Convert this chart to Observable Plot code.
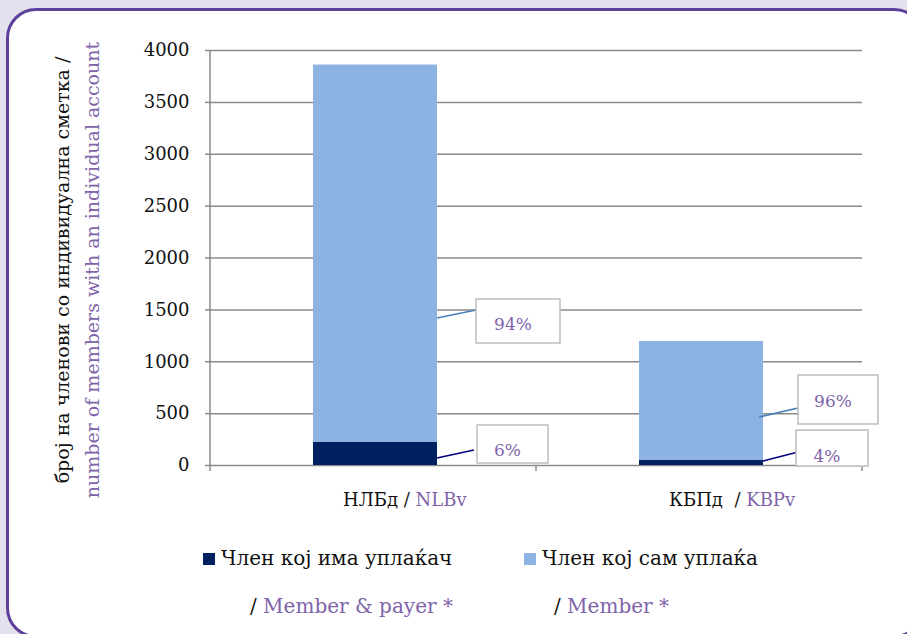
<!DOCTYPE html>
<html><head><meta charset="utf-8">
<script src="https://cdn.jsdelivr.net/npm/d3@7"></script>
<script src="https://cdn.jsdelivr.net/npm/@observablehq/plot@0.6"></script>
<style>
html,body{margin:0;padding:0;}
body{background:#e3e1ee;width:907px;height:634px;overflow:hidden;position:relative;font-family:"DejaVu Serif",serif;}
#card{position:absolute;left:6px;top:8px;width:918px;height:630px;background:#fff;border:3px solid #5e409c;border-radius:30px;box-sizing:border-box;}
#chart{position:absolute;left:0;top:0;}
.leg{position:absolute;font-size:20px;color:#111;white-space:nowrap;line-height:1;}
.sw{display:inline-block;width:12px;height:12px;margin-right:6px;vertical-align:0px;}
.p{color:#8064a9}
</style></head><body>
<div id="card"></div>
<div id="chart"></div>
<div id="legend"></div>
<script>
// ---- data ----
const banks = ["НЛБд", "КБПд"];
const banksEn = ["NLBv", "KBPv"];
const series = ["Член кој има уплаќач", "Член кој сам уплаќа"];
const seriesEn = ["Member & payer *", "Member *"];
const memberPayer = [225, 48];
const memberSelf = [3635, 1147];
const pctPayer = ["6%", "4%"];
const pctSelf = ["94%", "96%"];
const yTicks = [0, 500, 1000, 1500, 2000, 2500, 3000, 3500, 4000];
const yTitle = "број на членови со индивидуална сметка /";
const yTitleEn = "number of members with an individual account";

const colors = ["#002060", "#8db3e2"];
const purple = "#8064a9";

const rows = [];
banks.forEach((b, i) => {
  rows.push({bank: b, series: series[0], value: memberPayer[i]});
  rows.push({bank: b, series: series[1], value: memberSelf[i]});
});

const INSET_L = 103, INSET_R = 99;

function decor(index, scales, values, dims) {
  const x = scales.x, y = scales.y;
  const g = d3.create("svg:g");
  const left = dims.marginLeft;
  const y0 = y(0);
  // vertical axis line
  g.append("line").attr("x1", left).attr("x2", left).attr("y1", y(4000)).attr("y2", y0 + 6)
    .attr("stroke", "#8a8a8a").attr("stroke-width", 1.5);
  // category boundary ticks
  banks.forEach(b => {
    const xe = x(b) + x.bandwidth();
    g.append("line").attr("x1", xe).attr("x2", xe).attr("y1", y0).attr("y2", y0 + 6)
      .attr("stroke", "#8a8a8a").attr("stroke-width", 1.5);
  });
  // category labels
  banks.forEach((b, i) => {
    const cx = x(b) + x.bandwidth() / 2;
    const t = g.append("text").attr("x", cx - 30).attr("y", y0 + 41)
      .attr("text-anchor", "start").attr("font-size", 18).attr("fill", "#111");
    t.append("tspan").text(b);
    t.append("tspan").text(i === 0 ? " / " : "  / ");
    t.append("tspan").attr("fill", purple).text(banksEn[i]);
  });
  // percentage labels with leader lines
  const specs = [
    // [bankIndex, text, leaderStart dx,dy, leaderEnd dx,dy, box x0,x1,y0,y1, baseline, colour]
    [0, pctSelf[0], 0, -147, 39, -155, 39, 123, -166, -122, -135, "#4a7ebb"],
    [0, pctPayer[0], 0, -7, 37, -15, 40, 111, -40, -2, -9, "#000080"],
    [1, pctSelf[1], -4, -48, 35, -57, 35, 115, -90, -41, -58, "#4a7ebb"],
    [1, pctPayer[1], 0, -4, 35, -13, 33, 105, -35, 1, -3, "#000080"]
  ];
  specs.forEach(([bi, txt, sx, sy, ex, ey, bx0, bx1, by0, by1, base, lc]) => {
    const xr = x(banks[bi]) + x.bandwidth() - INSET_R;
    g.append("line").attr("x1", xr + sx).attr("y1", y0 + sy).attr("x2", xr + ex).attr("y2", y0 + ey)
      .attr("stroke", lc).attr("stroke-width", 1.6);
    g.append("rect").attr("x", xr + bx0).attr("y", y0 + by0).attr("width", bx1 - bx0).attr("height", by1 - by0)
      .attr("fill", "#fff").attr("stroke", "#bdbdbd").attr("stroke-width", 1.5);
    g.append("text").attr("x", xr + (bx0 + bx1) / 2 - 5).attr("y", y0 + base)
      .attr("text-anchor", "middle").attr("font-size", 17).attr("fill", purple).text(txt);
  });
  return g.node();
}

const plot = Plot.plot({
  width: 907,
  height: 520,
  marginLeft: 210,
  marginRight: 45,
  marginTop: 50,
  marginBottom: 55,
  style: {background: "transparent", fontFamily: "DejaVu Serif", color: "#111"},
  x: {domain: banks, padding: 0, axis: null},
  y: {domain: [0, 4000]},
  color: {domain: series, range: colors},
  marks: [
    Plot.gridY(yTicks, {stroke: "#8a8a8a", strokeOpacity: 1, strokeWidth: 1.5}),
    Plot.axisY(yTicks, {tickSize: 5, tickPadding: 16, fontSize: 18, stroke: "#8a8a8a", strokeWidth: 1.5, fill: "#111", tickFormat: d => String(d), label: null}),
    Plot.barY(rows, {x: "bank", y: "value", fill: "series", insetLeft: INSET_L, insetRight: INSET_R, order: series}),
    Plot.text([yTitle], {text: d => d, frameAnchor: "left", textAnchor: "middle", dx: -148, dy: 12, rotate: -90, fontSize: 19, fill: "#111"}),
    Plot.text([yTitleEn], {text: d => d, frameAnchor: "left", textAnchor: "middle", dx: -118, dy: 12, rotate: -90, fontSize: 19, fill: purple}),
    decor
  ]
});
document.getElementById("chart").appendChild(plot);

// legend (HTML)
const leg = document.getElementById("legend");
const legPos = [[203, 548], [524, 548]];
const legPos2 = [[250, 596], [554, 596]];
series.forEach((s, i) => {
  const d = document.createElement("div");
  d.className = "leg";
  d.style.left = legPos[i][0] + "px";
  d.style.top = legPos[i][1] + "px";
  d.innerHTML = `<span class="sw" style="background:${colors[i]}"></span>${s}`;
  leg.appendChild(d);
  const e = document.createElement("div");
  e.className = "leg";
  e.style.left = legPos2[i][0] + "px";
  e.style.top = legPos2[i][1] + "px";
  e.innerHTML = `/ <span class="p">${seriesEn[i]}</span>`;
  leg.appendChild(e);
});
</script>
</body></html>
